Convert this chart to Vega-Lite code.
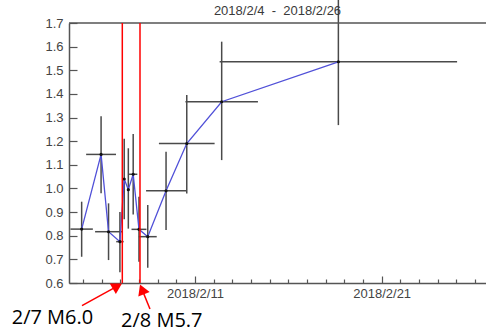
{
  "$schema": "https://vega.github.io/schema/vega-lite/v6.json",
  "width": 417,
  "height": 260,
  "autosize": {"type": "none"},
  "padding": {"left": 69, "top": 23, "right": 0, "bottom": 49},
  "background": "white",
  "title": {
    "text": "2018/2/4\u00a0\u00a0-\u00a0\u00a02018/2/26",
    "font": "Liberation Sans",
    "fontSize": 13,
    "fontWeight": "normal",
    "color": "#3a3a3a",
    "anchor": "middle",
    "offset": 0,
    "dy": 20
  },
  "config": {
    "view": {"stroke": null},
    "axis": {
      "domainColor": "#555555",
      "domainWidth": 1.5,
      "tickColor": "#555555",
      "tickWidth": 1.2,
      "labelColor": "#444444",
      "labelFont": "Liberation Sans",
      "labelFontSize": 13,
      "labelOverlap": false,
      "labelFlush": false,
      "grid": false,
      "title": null
    }
  },
  "datasets": {
    "obs": [
      {"t": "2018-02-04T22:19:00Z", "lo_t": "2018-02-04T07:55:00Z", "hi_t": "2018-02-05T12:43:00Z", "v": 0.828, "lo": 0.711, "hi": 0.944},
      {"t": "2018-02-05T23:17:00Z", "lo_t": "2018-02-05T04:05:00Z", "hi_t": "2018-02-06T18:29:00Z", "v": 1.144, "lo": 0.98, "hi": 1.305},
      {"t": "2018-02-06T08:53:00Z", "lo_t": "2018-02-05T15:35:00Z", "hi_t": "2018-02-07T02:11:00Z", "v": 0.817, "lo": 0.697, "hi": 0.937},
      {"t": "2018-02-06T23:31:00Z", "lo_t": "2018-02-06T18:43:00Z", "hi_t": "2018-02-07T04:19:00Z", "v": 0.775, "lo": 0.645, "hi": 0.9},
      {"t": "2018-02-07T05:02:00Z", "lo_t": "2018-02-07T03:50:00Z", "hi_t": "2018-02-07T06:14:00Z", "v": 1.04, "lo": 0.87, "hi": 1.21},
      {"t": "2018-02-07T10:19:00Z", "lo_t": "2018-02-07T09:07:00Z", "hi_t": "2018-02-07T11:31:00Z", "v": 0.995, "lo": 0.83, "hi": 1.17},
      {"t": "2018-02-07T16:34:00Z", "lo_t": "2018-02-07T11:17:00Z", "hi_t": "2018-02-07T21:52:00Z", "v": 1.06, "lo": 0.89, "hi": 1.23},
      {"t": "2018-02-08T00:00:00Z", "lo_t": "2018-02-07T14:24:00Z", "hi_t": "2018-02-08T09:36:00Z", "v": 0.827, "lo": 0.69, "hi": 0.965},
      {"t": "2018-02-08T11:17:00Z", "lo_t": "2018-02-07T23:46:00Z", "hi_t": "2018-02-08T22:48:00Z", "v": 0.796, "lo": 0.665, "hi": 0.93},
      {"t": "2018-02-09T10:48:00Z", "lo_t": "2018-02-08T09:07:00Z", "hi_t": "2018-02-10T12:29:00Z", "v": 0.99, "lo": 0.824, "hi": 1.155},
      {"t": "2018-02-10T13:26:00Z", "lo_t": "2018-02-09T01:38:00Z", "hi_t": "2018-02-12T01:14:00Z", "v": 1.19, "lo": 0.979, "hi": 1.395},
      {"t": "2018-02-12T10:19:00Z", "lo_t": "2018-02-10T11:43:00Z", "hi_t": "2018-02-14T08:55:00Z", "v": 1.367, "lo": 1.12, "hi": 1.621},
      {"t": "2018-02-18T16:19:00Z", "lo_t": "2018-02-12T07:41:00Z", "hi_t": "2018-02-25T00:55:00Z", "v": 1.536, "lo": 1.268, "hi": 1.804}
    ],
    "quakes": [
      {"t": "2018-02-07T02:34:00Z", "label": "2/7 M6.0", "from_t": "2018-02-04T22:45:00Z", "from_v": 0.504, "head_t": "2018-02-06T20:15:00Z", "head_v": 0.587, "text_t": "2018-02-01T04:24:00Z", "text_v": 0.4266},
      {"t": "2018-02-08T01:19:00Z", "label": "2/8 M5.7", "from_t": "2018-02-08T14:08:00Z", "from_v": 0.49, "head_t": "2018-02-08T03:53:00Z", "head_v": 0.573, "text_t": "2018-02-07T00:53:00Z", "text_v": 0.4139}
    ]
  },
  "layer": [
    {
      "data": {"name": "obs"},
      "mark": {"type": "rule", "color": "#4a4a4a", "strokeWidth": 1.5},
      "encoding": {
        "x": {
          "field": "lo_t",
          "type": "temporal",
          "scale": {
            "type": "utc",
            "domain": [
              {"year": 2018, "month": 2, "date": 4, "hours": 6, "minutes": 3, "utc": true},
              {"year": 2018, "month": 2, "date": 26, "hours": 14, "minutes": 5, "utc": true}
            ],
            "nice": false
          },
          "axis": {
            "tickCount": {"interval": "day", "step": 1},
            "tickSize": {"condition": {"test": "utcdate(datum.value) == 11 || utcdate(datum.value) == 21", "value": -7}, "value": -4},
            "labelExpr": "(utcdate(datum.value) == 11 || utcdate(datum.value) == 21) ? utcFormat(datum.value, '%Y/%-m/%-d') : ''",
            "labelPadding": 11,
            "labelOverlap": false
          }
        },
        "x2": {"field": "hi_t"},
        "y": {
          "field": "v",
          "type": "quantitative",
          "scale": {"domain": [0.6, 1.7], "nice": false, "zero": false},
          "axis": {"values": [0.6, 0.7, 0.8, 0.9, 1.0, 1.1, 1.2, 1.3, 1.4, 1.5, 1.6, 1.7], "format": ".1f", "tickSize": -8, "labelPadding": 14, "labelOverlap": false}
        }
      }
    },
    {
      "data": {"name": "obs"},
      "mark": {"type": "rule", "color": "#4a4a4a", "strokeWidth": 1.5, "clip": false},
      "encoding": {
        "x": {"field": "t", "type": "temporal"},
        "y": {"field": "lo", "type": "quantitative", "axis": {"values": [0.6, 0.7, 0.8, 0.9, 1.0, 1.1, 1.2, 1.3, 1.4, 1.5, 1.6, 1.7], "format": ".1f", "tickSize": -8, "labelPadding": 14, "labelOverlap": false}},
        "y2": {"field": "hi"}
      }
    },
    {
      "data": {"name": "obs"},
      "mark": {"type": "line", "color": "#5050d8", "strokeWidth": 1.3},
      "encoding": {
        "x": {"field": "t", "type": "temporal"},
        "y": {"field": "v", "type": "quantitative", "axis": {"values": [0.6, 0.7, 0.8, 0.9, 1.0, 1.1, 1.2, 1.3, 1.4, 1.5, 1.6, 1.7], "format": ".1f", "tickSize": -8, "labelPadding": 14, "labelOverlap": false}}
      }
    },
    {
      "data": {"name": "obs"},
      "mark": {"type": "point", "filled": true, "color": "#111111", "size": 10, "opacity": 1},
      "encoding": {
        "x": {"field": "t", "type": "temporal"},
        "y": {"field": "v", "type": "quantitative", "axis": {"values": [0.6, 0.7, 0.8, 0.9, 1.0, 1.1, 1.2, 1.3, 1.4, 1.5, 1.6, 1.7], "format": ".1f", "tickSize": -8, "labelPadding": 14, "labelOverlap": false}}
      }
    },
    {
      "data": {"values": [{"edge": "top"}]},
      "mark": {"type": "rule", "color": "#555555", "strokeWidth": 1.5},
      "encoding": {"y": {"datum": 1.7, "type": "quantitative", "axis": {"values": [0.6, 0.7, 0.8, 0.9, 1.0, 1.1, 1.2, 1.3, 1.4, 1.5, 1.6, 1.7], "format": ".1f", "tickSize": -8, "labelPadding": 14, "labelOverlap": false}}}
    },
    {
      "data": {"name": "quakes"},
      "mark": {"type": "rule", "color": "#ff0000", "strokeWidth": 1.5},
      "encoding": {
        "x": {"field": "t", "type": "temporal"},
        "y": {"datum": 1.7, "type": "quantitative", "axis": {"values": [0.6, 0.7, 0.8, 0.9, 1.0, 1.1, 1.2, 1.3, 1.4, 1.5, 1.6, 1.7], "format": ".1f", "tickSize": -8, "labelPadding": 14, "labelOverlap": false}},
        "y2": {"datum": 0.6}
      }
    },
    {
      "data": {"name": "quakes"},
      "mark": {"type": "rule", "color": "#ff0000", "strokeWidth": 1.5, "clip": false},
      "encoding": {
        "x": {"field": "from_t", "type": "temporal"},
        "y": {"field": "from_v", "type": "quantitative", "axis": {"values": [0.6, 0.7, 0.8, 0.9, 1.0, 1.1, 1.2, 1.3, 1.4, 1.5, 1.6, 1.7], "format": ".1f", "tickSize": -8, "labelPadding": 14, "labelOverlap": false}},
        "x2": {"field": "head_t"},
        "y2": {"field": "head_v"}
      }
    },
    {
      "data": {"name": "quakes"},
      "mark": {"type": "point", "shape": "triangle-up", "filled": true, "color": "#ff0000", "size": 150, "opacity": 1, "clip": false},
      "encoding": {
        "x": {"field": "head_t", "type": "temporal"},
        "y": {"field": "head_v", "type": "quantitative", "axis": {"values": [0.6, 0.7, 0.8, 0.9, 1.0, 1.1, 1.2, 1.3, 1.4, 1.5, 1.6, 1.7], "format": ".1f", "tickSize": -8, "labelPadding": 14, "labelOverlap": false}},
        "angle": {"condition": {"test": "datum.label == '2/7 M6.0'", "value": 60}, "value": 338}
      }
    },
    {
      "data": {"name": "quakes"},
      "mark": {"type": "text", "font": "Open Sans", "fontSize": 20, "color": "#000000", "align": "left", "baseline": "alphabetic", "clip": false},
      "encoding": {
        "x": {"field": "text_t", "type": "temporal"},
        "y": {"field": "text_v", "type": "quantitative", "axis": {"values": [0.6, 0.7, 0.8, 0.9, 1.0, 1.1, 1.2, 1.3, 1.4, 1.5, 1.6, 1.7], "format": ".1f", "tickSize": -8, "labelPadding": 14, "labelOverlap": false}},
        "text": {"field": "label"}
      }
    }
  ]
}
